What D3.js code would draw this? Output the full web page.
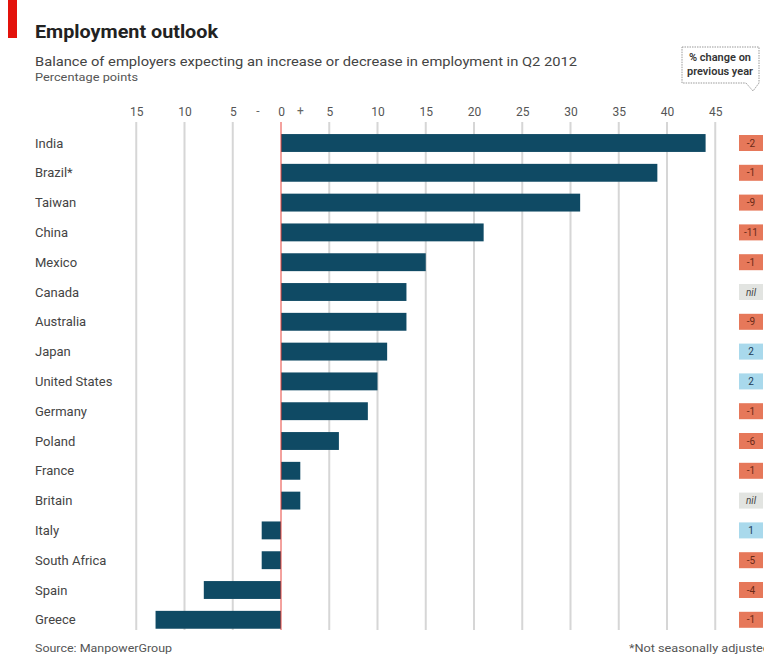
<!DOCTYPE html>
<html>
<head>
<meta charset="utf-8">
<script src="https://cdn.jsdelivr.net/npm/d3@7"></script>
<style>
  html, body { margin: 0; padding: 0; background: #fff; }
  svg { display: block; font-family: Roboto, "Open Sans", "Liberation Sans", sans-serif; }
</style>
</head>
<body>
<svg id="chart" width="764" height="656"></svg>
<script>
// Manpower employment outlook survey, Q2 2012
const countries = ["India", "Brazil*", "Taiwan", "China", "Mexico", "Canada", "Australia", "Japan",
  "United States", "Germany", "Poland", "France", "Britain", "Italy", "South Africa", "Spain", "Greece"];
const balance = [44, 39, 31, 21, 15, 13, 13, 11, 10, 9, 6, 2, 2, -2, -2, -8, -13];
// change on previous year; null = nil
const yearChange = [-2, -1, -9, -11, -1, null, -9, 2, 2, -1, -6, -1, null, 1, -5, -4, -1];
const tickValues = [-15, -10, -5, 0, 5, 10, 15, 20, 25, 30, 35, 40, 45];

const svg = d3.select("#chart");

const x = d3.scaleLinear().domain([-15, 45]).range([136.25, 715.25]);
const y = d3.scaleBand().domain(countries).range([128.1, 634.7])
  .paddingInner(0.4).paddingOuter(0.2);

// headline strip, mostly above the frame
svg.append("text")
  .attr("x", 40).attr("y", -8)
  .attr("font-size", 34).attr("font-weight", 700)
  .attr("fill", "#b5121b")
  .text("Most employers plan to keep hiring");

// red tag
svg.append("rect").attr("x", 8).attr("y", 0).attr("width", 9).attr("height", 38).attr("fill", "#e3120b");

svg.append("text").attr("x", 35).attr("y", 38)
  .attr("font-size", 19).attr("font-weight", 700).attr("fill", "#222")
  .attr("textLength", 183).attr("lengthAdjust", "spacingAndGlyphs")
  .text("Employment outlook");

svg.append("text").attr("x", 35).attr("y", 66)
  .attr("font-size", 13).attr("fill", "#444")
  .attr("textLength", 542).attr("lengthAdjust", "spacingAndGlyphs")
  .text("Balance of employers expecting an increase or decrease in employment in Q2 2012");

svg.append("text").attr("x", 35).attr("y", 81)
  .attr("font-size", 10.5).attr("fill", "#555")
  .attr("textLength", 103).attr("lengthAdjust", "spacingAndGlyphs")
  .text("Percentage points");

// callout for the right-hand column
const callout = svg.append("g");
callout.append("path")
  .attr("d", "M682,47 H759 V83 L753,91 L746,83 H682 Z")
  .attr("fill", "#fff").attr("stroke", "#999").attr("stroke-width", 1)
  .attr("stroke-dasharray", "1.5,1");
callout.append("text").attr("x", 720).attr("y", 61).attr("text-anchor", "middle")
  .attr("font-size", 10).attr("font-weight", 600).attr("fill", "#333")
  .attr("textLength", 62).attr("lengthAdjust", "spacingAndGlyphs")
  .text("% change on");
callout.append("text").attr("x", 720).attr("y", 75).attr("text-anchor", "middle")
  .attr("font-size", 10).attr("font-weight", 600).attr("fill", "#333")
  .attr("textLength", 66).attr("lengthAdjust", "spacingAndGlyphs")
  .text("previous year");

// grid
const gridTop = 122, gridBottom = 630;
svg.append("g").selectAll("line")
  .data(tickValues.filter(d => d !== 0))
  .join("line")
  .attr("x1", d => x(d)).attr("x2", d => x(d))
  .attr("y1", gridTop).attr("y2", gridBottom)
  .attr("stroke", "#d6d6d6").attr("stroke-width", 2);

// axis labels on top, absolute values either side of zero
const axis = svg.append("g").attr("transform", "translate(0,116)")
  .call(d3.axisTop(x).tickValues(tickValues).tickSize(0).tickPadding(0).tickFormat(d => Math.abs(d)));
axis.select(".domain").remove();
axis.selectAll("text").attr("font-size", 12).attr("fill", "#555")
  .attr("font-family", "Roboto, 'Open Sans', sans-serif");
svg.append("text").attr("x", x(-2.4)).attr("y", 115).attr("text-anchor", "middle")
  .attr("font-size", 12).attr("fill", "#666").text("-");
svg.append("text").attr("x", x(2)).attr("y", 115).attr("text-anchor", "middle")
  .attr("font-size", 12).attr("fill", "#666").text("+");

// bars
svg.append("g").selectAll("rect")
  .data(countries.map((c, i) => ({ c, v: balance[i] })))
  .join("rect")
  .attr("x", d => x(Math.min(0, d.v)))
  .attr("width", d => Math.abs(x(d.v) - x(0)))
  .attr("y", d => y(d.c))
  .attr("height", y.bandwidth())
  .attr("fill", "#0f4a64");

// zero line
svg.append("line")
  .attr("x1", x(0)).attr("x2", x(0))
  .attr("y1", gridTop).attr("y2", gridBottom)
  .attr("stroke", "#e8453c").attr("stroke-width", 1);

// country labels
svg.append("g").selectAll("text")
  .data(countries)
  .join("text")
  .attr("x", 35)
  .attr("y", d => y(d) + y.bandwidth() / 2)
  .attr("dy", "0.35em")
  .attr("font-size", 13).attr("fill", "#444")
  .text(d => d);

// change column
const chg = svg.append("g").selectAll("g")
  .data(countries.map((c, i) => ({ c, v: yearChange[i] })))
  .join("g")
  .attr("transform", d => `translate(739,${y(d.c) + y.bandwidth() / 2})`);
chg.append("rect")
  .attr("x", 0).attr("y", -8).attr("width", 24).attr("height", 16)
  .attr("fill", d => d.v === null ? "#e2e4e1" : d.v < 0 ? "#e6785a" : "#a9d9ec");
chg.append("text")
  .attr("x", 12).attr("dy", "0.35em").attr("text-anchor", "middle")
  .attr("font-size", 10)
  .attr("font-style", d => d.v === null ? "italic" : "normal")
  .attr("fill", d => d.v === null ? "#444" : d.v < 0 ? "#6a2a18" : "#1d3a55")
  .text(d => d.v === null ? "nil" : d.v);

// footer
svg.append("text").attr("x", 35).attr("y", 652)
  .attr("font-size", 10).attr("fill", "#555")
  .attr("textLength", 137).attr("lengthAdjust", "spacingAndGlyphs")
  .text("Source: ManpowerGroup");
svg.append("text").attr("x", 629).attr("y", 652)
  .attr("font-size", 10).attr("fill", "#555")
  .attr("textLength", 141).attr("lengthAdjust", "spacingAndGlyphs")
  .text("*Not seasonally adjusted");
</script>
</body>
</html>
